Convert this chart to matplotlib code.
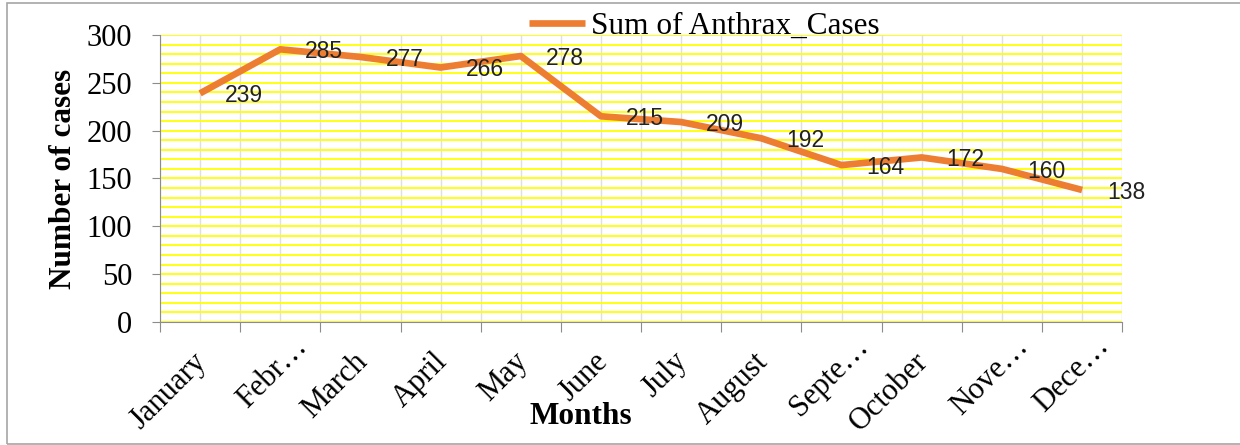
import numpy as np
import matplotlib.pyplot as plt
from matplotlib.ticker import MultipleLocator, FixedLocator
from matplotlib.patches import Rectangle
from matplotlib.transforms import ScaledTranslation

# data
months = ['January', 'Febr\u2026', 'March', 'April', 'May', 'June', 'July',
          'August', 'Septe\u2026', 'October', 'Nove\u2026', 'Dece\u2026']
cases = [239, 285, 277, 266, 278, 215, 209, 192, 164, 172, 160, 138]

serif = 'Liberation Serif'
orange = '#ED7D31'

fig = plt.figure(figsize=(12.4, 4.45), dpi=100)
ax = fig.add_axes([0.129, 0.2764, 0.776, 0.645])

x = np.arange(len(months))
line, = ax.plot(x, cases, color=orange, lw=4.8, solid_joinstyle='round',
                solid_capstyle='butt', label='Sum of Anthrax_Cases', zorder=3)

for xi, v in zip(x, cases):
    ax.annotate(str(v), (xi, v), xytext=(18, -1.5), textcoords='offset points',
                ha='left', va='center', fontsize=16.5, family='Liberation Sans',
                color='#222222', zorder=4)

ax.set_xlim(-0.5, len(months) - 0.5)
ax.set_ylim(0, 300)

# x: major ticks on category borders, labels on minor ticks
ax.xaxis.set_major_locator(FixedLocator(np.arange(-0.5, len(months), 1.0)))
ax.xaxis.set_minor_locator(FixedLocator(x))
ax.set_xticklabels([], minor=False)
ax.set_xticklabels(months, minor=True, rotation=45, ha='right',
                   rotation_mode='anchor', fontsize=22, family=serif)
ax.tick_params(axis='x', which='major', length=7, color='#8c8c8c')
ax.tick_params(axis='x', which='minor', length=0, pad=18)
for lab in ax.get_xticklabels(minor=True):
    # truncated names sit a bit higher/right, like in the excel original
    if lab.get_text().endswith('\u2026'):
        dx, dy = 12, 15
    else:
        dx, dy = -8, 0
    shift = ScaledTranslation(dx / 100, dy / 100, fig.dpi_scale_trans)
    lab.set_transform(lab.get_transform() + shift)

ax.yaxis.set_major_locator(MultipleLocator(50))
ax.yaxis.set_minor_locator(MultipleLocator(10))
ax.tick_params(axis='y', which='major', length=6, color='#8c8c8c',
               labelsize=22, pad=14)
ax.tick_params(axis='y', which='minor', length=0)
for lab in ax.get_yticklabels():
    lab.set_family(serif)

ax.grid(axis='y', which='both', color='#FFFF00', lw=1.3, zorder=1)
ax.grid(axis='x', which='both', color='#e0e0e0', lw=1.0, zorder=1)
ax.set_axisbelow(True)

for s in ['top', 'right']:
    ax.spines[s].set_visible(False)
for s in ['left', 'bottom']:
    ax.spines[s].set_color('#8c8c8c')

ax.set_ylabel('Number of cases', fontsize=22.5, fontweight='bold', family=serif)
ax.yaxis.set_label_coords(-0.085, 0.5)
ax.set_xlabel('Months', fontsize=22.5, fontweight='bold', family=serif)
ax.xaxis.set_label_coords(0.4376, -0.28)

fig.legend(handles=[line], loc='center', bbox_to_anchor=(0.568, 0.94),
           frameon=False, prop={'family': serif, 'size': 22.5},
           handlelength=1.8, handletextpad=0.2)

fig.patches.append(Rectangle((7 / 1240, 0.0022), 1.2, 0.991,
                             transform=fig.transFigure, fill=False,
                             edgecolor='#a6a6a6', lw=1.2))

fig.savefig('out.png', dpi=100)
